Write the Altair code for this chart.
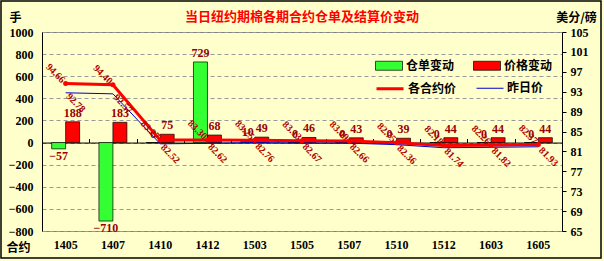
import altair as alt
import pandas as pd

contracts = ["1405", "1407", "1410", "1412", "1503", "1505", "1507", "1510", "1512", "1603", "1605"]
warrant_change = [-57, -710, 0, 729, 10, 0, 0, 0, 0, 0, 0]
price_change = [188, 183, 75, 68, 49, 46, 43, 39, 44, 44, 44]
today_price = [94.66, 94.40, 83.27, 83.30, 83.25, 83.13, 83.09, 82.75, 82.18, 82.26, 82.37]
yesterday_price = [92.78, 92.57, 82.52, 82.62, 82.76, 82.67, 82.66, 82.36, 81.74, 81.82, 81.93]
left_ticks = [-800, -600, -400, -200, 0, 200, 400, 600, 800, 1000]
right_ticks = [65, 69, 73, 77, 81, 85, 89, 93, 97, 101, 105]
bar_series = ["仓单变动", "价格变动"]
line_series = ["各合约价", "昨日价"]

n = len(contracts)
bars_df = pd.DataFrame({
    "contract": contracts * 2,
    "series": [bar_series[0]] * n + [bar_series[1]] * n,
    "value": warrant_change + price_change,
})
lines_df = pd.DataFrame({
    "contract": contracts * 2,
    "series": [line_series[0]] * n + [line_series[1]] * n,
    "price": today_price + yesterday_price,
})

SERIF = "Liberation Serif"
CJK = "Noto Sans CJK SC"
LBL = "#990000"
W, H = 520, 199

xscale = alt.Scale(paddingInner=0, paddingOuter=0)

x_bottom = alt.X(
    "contract:N", sort=contracts, scale=xscale,
    axis=alt.Axis(orient="bottom", domain=False, ticks=False, grid=False,
                  labelPadding=8, labelFont=SERIF, labelFontSize=12,
                  labelFontWeight="bold", labelColor="black", labelAngle=0,
                  title="合约", titleFont=CJK, titleFontSize=12, titleFontWeight="bold",
                  titleColor="black", titleAngle=0, titleX=-24, titleY=16,
                  titleAlign="center", titleBaseline="middle"))

x_zero = alt.X(
    "contract:N", sort=contracts, scale=xscale,
    axis=alt.Axis(orient="top", offset=-(H * 1000 / 1800), labels=False,
                  tickBand="extent", tickSize=4, tickColor="black",
                  domainColor="black", domainWidth=1, grid=False, title=None))

y_left = alt.Y(
    "value:Q", scale=alt.Scale(domain=[-800, 1000], nice=False, zero=False),
    axis=alt.Axis(orient="left", values=left_ticks, format="d", grid=True, gridDash=[4, 3],
                  gridColor="#999999", tickSize=0, labelPadding=9, labelOverlap=False,
                  domainColor="black", labelFont=SERIF, labelFontSize=12,
                  labelFontWeight="bold", labelColor="black",
                  title="手", titleFont=CJK, titleFontSize=12, titleFontWeight="bold",
                  titleColor="black", titleAngle=0, titleX=-27, titleY=-15,
                  titleAlign="center", titleBaseline="middle"))

y_right = alt.Y(
    "price:Q", scale=alt.Scale(domain=[65, 105], nice=False, zero=False),
    axis=alt.Axis(orient="right", values=right_ticks, format="d", grid=False, tickSize=4,
                  tickColor="black", labelPadding=4, labelOverlap=False, domainColor="black",
                  labelFont=SERIF, labelFontSize=12, labelFontWeight="bold",
                  labelColor="black",
                  title="美分/磅", titleFont=CJK, titleFontSize=12, titleFontWeight="bold",
                  titleColor="black", titleAngle=0, titleX=14, titleY=-15,
                  titleAlign="center", titleBaseline="middle"))

xoff = alt.XOffset("series:N", sort=bar_series,
                   scale=alt.Scale(domain=bar_series, paddingInner=0, paddingOuter=0.69))

bars = alt.Chart(bars_df).mark_bar(stroke="black", strokeWidth=0.7).encode(
    x=x_bottom, xOffset=xoff, y=y_left,
    fill=alt.Fill("series:N", sort=bar_series,
                  scale=alt.Scale(domain=bar_series, range=["#33FF33", "#FF0000"]),
                  legend=alt.Legend(orient="none", legendX=333, legendY=24,
                                    direction="horizontal", title=None,
                                    symbolType="M-1,-0.5H2V0.5H-1Z",
                                    symbolSize=324, symbolStrokeColor="black",
                                    symbolStrokeWidth=0.7, labelOffset=12,
                                    columnPadding=17, labelFont=CJK, labelFontSize=12,
                                    labelFontWeight="bold", labelColor="black")),
)

pos_labels = alt.Chart(bars_df).transform_filter("datum.value >= 0").mark_text(
    font=SERIF, fontSize=12, fontWeight="bold", color=LBL, baseline="bottom", dy=-2
).encode(x=x_bottom, xOffset=xoff, y=y_left, text=alt.Text("value:Q"))

neg_labels = alt.Chart(bars_df).transform_filter("datum.value < 0").mark_text(
    font=SERIF, fontSize=12, fontWeight="bold", color=LBL, baseline="top", dy=2
).encode(x=x_bottom, xOffset=xoff, y=y_left, text=alt.Text("value:Q"))

border = alt.Chart(pd.DataFrame({"k": [0]})).mark_rect(
    fill="transparent", stroke="black", strokeWidth=1.5
).encode(x=alt.value(-41), x2=alt.value(559), y=alt.value(-31), y2=alt.value(226))

left = alt.layer(border, bars, pos_labels, neg_labels)

lines = alt.Chart(lines_df).mark_line().encode(
    x=x_zero, y=y_right,
    stroke=alt.Stroke("series:N", sort=line_series,
                      scale=alt.Scale(domain=line_series, range=["#FF0000", "#0000CC"]),
                      legend=alt.Legend(orient="none", legendX=333, legendY=46,
                                        direction="horizontal", title=None,
                                        symbolType="M-1,0H2", symbolSize=324,
                                        symbolStrokeWidth=2, labelOffset=12,
                                        columnPadding=17, labelFont=CJK, labelFontSize=12,
                                        labelFontWeight="bold", labelColor="black")),
    strokeWidth=alt.StrokeWidth("series:N", sort=line_series,
                                scale=alt.Scale(domain=line_series, range=[3, 1]),
                                legend=None),
    order=alt.Order("series:N"),
)

points = alt.Chart(lines_df).transform_filter(
    alt.datum.series == line_series[0]
).mark_point(filled=True, size=25, color="#FF0000", opacity=1).encode(x=x_zero, y=y_right)

today_lbl = alt.Chart(lines_df).transform_filter(
    alt.datum.series == line_series[0]
).mark_text(angle=45, align="right", baseline="middle", dx=-3, font=SERIF,
            fontSize=10, fontWeight="bold", color="#B00000").encode(
    x=x_zero, y=y_right, text=alt.Text("price:Q", format=".2f"))

yest_lbl = alt.Chart(lines_df).transform_filter(
    alt.datum.series == line_series[1]
).mark_text(angle=45, align="left", baseline="middle", dx=3, font=SERIF,
            fontSize=10, fontWeight="bold", color="#B00000").encode(
    x=x_zero, y=y_right, text=alt.Text("price:Q", format=".2f"))

right = alt.layer(lines, points, today_lbl, yest_lbl)

chart = alt.layer(left, right).resolve_scale(y="independent").resolve_axis(
    x="independent", y="independent"
).properties(
    width=W, height=H,
    title=alt.TitleParams(text="当日纽约期棉各期合约仓单及结算价变动", font=CJK,
                          fontSize=13, fontWeight="bold", color="#FF0000",
                          anchor="middle", offset=9, dy=33),
    autosize=alt.AutoSizeParams(type="none"),
    padding={"left": 42, "top": 32, "right": 42, "bottom": 30},
).configure(background="#FFFFCC").configure_view(stroke="#808080", strokeWidth=1)

chart.save("out.html", embed_options={"renderer": "svg", "actions": False})
